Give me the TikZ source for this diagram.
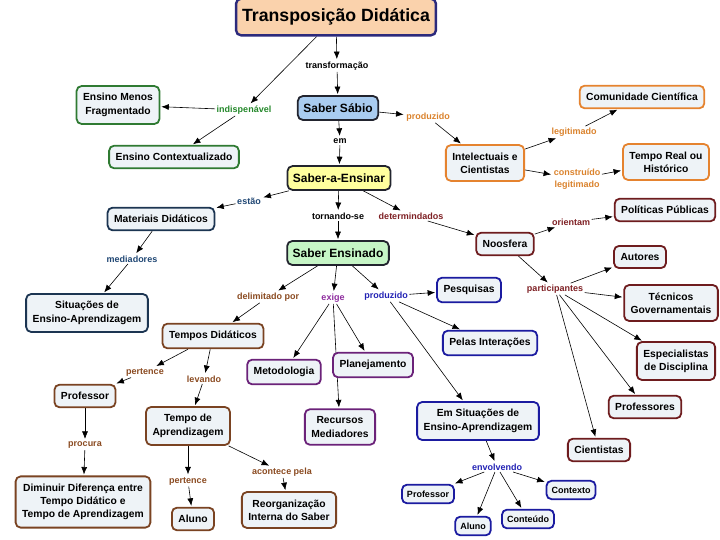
\documentclass[tikz,border=0pt]{standalone}
\usepackage{fontspec}
\setmainfont{Liberation Sans}
\usepackage{xcolor}
\usepackage{tikz}
\usetikzlibrary{arrows.meta,backgrounds}

\definecolor{boxfill}{HTML}{EEF3F7}
\definecolor{titlefill}{HTML}{FAD2AC}
\definecolor{sabiofill}{HTML}{A9CCF0}
\definecolor{ensinarfill}{HTML}{FFFF9E}
\definecolor{ensinadofill}{HTML}{C6F5C6}
\definecolor{cgreen}{HTML}{2F7A32}
\definecolor{corange}{HTML}{E5832F}
\definecolor{cnavy}{HTML}{1C3552}
\definecolor{cindigo}{HTML}{2C2A7C}
\definecolor{cdark}{HTML}{22242E}
\definecolor{cred}{HTML}{6E1C1E}
\definecolor{cbrown}{HTML}{7A4322}
\definecolor{cblue}{HTML}{1B1BA0}
\definecolor{cpurple}{HTML}{6B2279}
\definecolor{lgreen}{HTML}{24882A}
\definecolor{lorange}{HTML}{DA822C}
\definecolor{lnavy}{HTML}{1F4673}
\definecolor{lred}{HTML}{7E2024}
\definecolor{lbrown}{HTML}{8A4A20}
\definecolor{lblue}{HTML}{2222B4}
\definecolor{lpurple}{HTML}{8E2C9E}

\tikzset{
  concept/.style={draw, rounded corners=5pt, line width=1.8pt, fill=boxfill, align=center,
    inner xsep=6.5pt, inner ysep=7.5pt, font=\bfseries\fontsize{10.3}{13.3}\selectfont},
  small concept/.style={concept, inner xsep=5pt, inner ysep=6pt, font=\bfseries\fontsize{9}{11}\selectfont},
  key concept/.style={concept, inner xsep=5.5pt, inner ysep=7.5pt, font=\bfseries\fontsize{12}{14}\selectfont},
  link/.style={inner sep=1.5pt, align=center, font=\bfseries\fontsize{9}{11.5}\selectfont},
  arr/.style={-{Latex[length=7.5pt,width=6pt]}, line width=0.6pt, shorten >=1pt},
}

\begin{document}
\begin{tikzpicture}[x=1pt,y=-1pt]
        \useasboundingbox (0,0) rectangle (720,540);

        % Title and main chain
        \node[concept, draw=cindigo, fill=titlefill, line width=2.4pt, inner xsep=6pt, inner ysep=10pt,
              font=\bfseries\fontsize{17.7}{20}\selectfont] (title) at (336,17) {Transposição Didática};
        \node[key concept, draw=cdark, fill=sabiofill] (sabio) at (338,108) {Saber Sábio};
        \node[key concept, draw=cdark, fill=ensinarfill] (ensinar) at (339,178) {Saber-a-Ensinar};
        \node[key concept, draw=cdark, fill=ensinadofill] (ensinado) at (338,253) {Saber Ensinado};

        % Green branch
        \node[concept, draw=cgreen] (menos) at (118,105) {Ensino Menos\\Fragmentado};
        \node[concept, draw=cgreen] (contex) at (174,157) {Ensino Contextualizado};

        % Orange branch
        \node[concept, draw=corange] (intel) at (485,163) {Intelectuais e\\Cientistas};
        \node[concept, draw=corange] (comun) at (642,97) {Comunidade Científica};
        \node[concept, draw=corange] (tempreal) at (666,162) {Tempo Real ou\\Histórico};

        % Navy branch
        \node[concept, draw=cnavy] (materiais) at (161,219) {Materiais Didáticos};
        \node[concept, draw=cnavy] (situacoes) at (87,313) {Situações de\\Ensino-Aprendizagem};

        % Noosfera
        \node[concept, draw=cred] (noos) at (505,244) {Noosfera};
        \node[concept, draw=cred] (polit) at (665,210) {Políticas Públicas};
        \node[concept, draw=cred] (autores) at (640,257) {Autores};
        \node[concept, draw=cred] (tecnicos) at (671,303) {Técnicos\\Governamentais};
        \node[concept, draw=cred] (especial) at (676,361) {Especialistas\\de Disciplina};
        \node[concept, draw=cred] (professores) at (645,407) {Professores};
        \node[concept, draw=cred] (cientistas) at (599,450) {Cientistas};

        % Brown branch
        \node[concept, draw=cbrown] (tempos) at (213,336) {Tempos Didáticos};
        \node[concept, draw=cbrown] (prof1) at (85,396) {Professor};
        \node[concept, draw=cbrown] (tempoapr) at (188,426) {Tempo de\\Aprendizagem};
        \node[concept, draw=cbrown] (diminuir) at (83,502) {Diminuir Diferença entre\\Tempo Didático e\\Tempo de Aprendizagem};
        \node[concept, draw=cbrown] (aluno1) at (193,519) {Aluno};
        \node[concept, draw=cbrown] (reorg) at (289,510) {Reorganização\\Interna do Saber};

        % Purple branch
        \node[concept, draw=cpurple] (metod) at (284,372) {Metodologia};
        \node[concept, draw=cpurple] (planej) at (373,365) {Planejamento};
        \node[concept, draw=cpurple] (recursos) at (340,427) {Recursos\\Mediadores};

        % Blue branch
        \node[concept, draw=cblue] (pesq) at (469,290) {Pesquisas};
        \node[concept, draw=cblue] (pelas) at (490,343) {Pelas Interações};
        \node[concept, draw=cblue] (emsit) at (478,421) {Em Situações de\\Ensino-Aprendizagem};
        \node[small concept, draw=cblue] (prof2) at (428,494) {Professor};
        \node[small concept, draw=cblue] (aluno2) at (473,526) {Aluno};
        \node[small concept, draw=cblue] (conteudo) at (528,519) {Conteúdo};
        \node[small concept, draw=cblue] (contexto) at (571,490) {Contexto};

        % Linking words
        \node[link] (trans) at (337,66) {transformação};
        \node[link, text=lgreen] (indisp) at (244,110) {indispenável};
        \node[link, text=lorange] (prod1) at (428,117) {produzido};
        \node[link] (em) at (340,141) {em};
        \node[link, text=lorange] (legit) at (574,132) {legitimado};
        \node[link, text=lorange] (constr) at (577,179) {construído\\legitimado};
        \node[link, text=lnavy] (estao) at (249,201) {estão};
        \node[link] (torn) at (338,216) {tornando-se};
        \node[link, text=lred] (determ) at (411,216) {determindados};
        \node[link, text=lred] (orient) at (571,222) {orientam};
        \node[link, text=lnavy] (mediad) at (132,259) {mediadores};
        \node[link, text=lbrown] (delim) at (268,297) {delimitado por};
        \node[link, text=lpurple] (exige) at (333,298) {exige};
        \node[link, text=lblue] (prod2) at (386,296) {produzido};
        \node[link, text=lred] (partic) at (555,289) {participantes};
        \node[link, text=lbrown] (pert1) at (145,372) {pertence};
        \node[link, text=lbrown] (levando) at (204,379) {levando};
        \node[link, text=lbrown] (procura) at (85,445) {procura};
        \node[link, text=lbrown] (pert2) at (188,481) {pertence};
        \node[link, text=lbrown] (acont) at (282,472) {acontece pela};
        \node[link, text=lblue] (envolv) at (497,467) {envolvendo};

        % Connectors
        \begin{scope}[on background layer]
            \draw[arr] (title) -- (trans);
            \draw[arr] (trans) -- (sabio);
            \draw[arr] (title) -- (indisp);
            \draw[arr] (indisp) -- (menos);
            \draw[arr] (indisp) -- (contex);
            \draw[arr] (sabio) -- (prod1);
            \draw[arr] (prod1) -- (intel);
            \draw[arr] (intel) -- (legit);
            \draw[arr] (legit) -- (comun);
            \draw[arr] (intel) -- (constr);
            \draw[arr] (constr) -- (tempreal);
            \draw[arr] (sabio) -- (em);
            \draw[arr] (em) -- (ensinar);
            \draw[arr] (ensinar) -- (estao);
            \draw[arr] (estao) -- (materiais);
            \draw[arr] (materiais) -- (mediad);
            \draw[arr] (mediad) -- (situacoes);
            \draw[arr] (ensinar) -- (torn);
            \draw[arr] (torn) -- (ensinado);
            \draw[arr] (ensinar) -- (determ);
            \draw[arr] (determ) -- (noos);
            \draw[arr] (noos) -- (orient);
            \draw[arr] (orient) -- (polit);
            \draw[arr] (noos) -- (partic);
            \foreach \who in {autores,tecnicos,especial,professores,cientistas}
                \draw[arr] (partic) -- (\who);
            \draw[arr] (ensinado) -- (delim);
            \draw[arr] (delim) -- (tempos);
            \draw[arr] (ensinado) -- (exige);
            \foreach \who in {metod,planej,recursos}
                \draw[arr] (exige) -- (\who);
            \draw[arr] (ensinado) -- (prod2);
            \foreach \who in {pesq,pelas,emsit}
                \draw[arr] (prod2) -- (\who);
            \draw[arr] (tempos) -- (pert1);
            \draw[arr] (pert1) -- (prof1);
            \draw[arr] (tempos) -- (levando);
            \draw[arr] (levando) -- (tempoapr);
            \draw[arr] (prof1) -- (procura);
            \draw[arr] (procura) -- (diminuir);
            \draw[arr] (tempoapr) -- (pert2);
            \draw[arr] (pert2) -- (aluno1);
            \draw[arr] (tempoapr) -- (acont);
            \draw[arr] (acont) -- (reorg);
            \draw[arr] (emsit) -- (envolv);
            \foreach \who in {prof2,aluno2,conteudo,contexto}
                \draw[arr] (envolv) -- (\who);
        \end{scope}
    \end{tikzpicture}
\end{document}
